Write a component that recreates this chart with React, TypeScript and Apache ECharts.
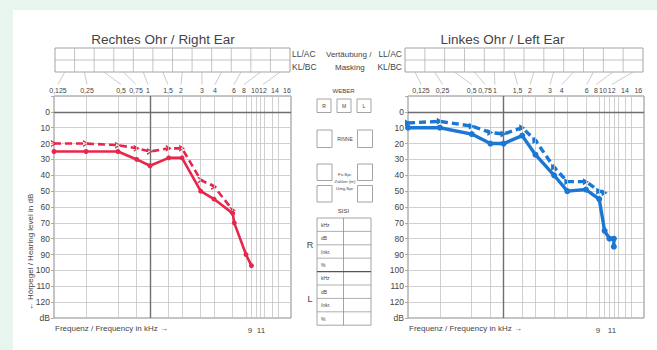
import React, { useEffect, useRef } from "react";
import * as echarts from "echarts";

// ---------------- data ----------------
const topFreqLabels = ["0,125", "0,25", "0,5", "0,75", "1", "1,5", "2", "3", "4", "6", "8", "10", "12", "14", "16"];
const gridFrequencies = [0.125, 0.25, 0.5, 0.75, 1, 1.5, 2, 3, 4, 6, 8, 9, 10, 11, 12, 14, 16];
const highFreqLabels = ["9", "11"];
const weberBoxes = ["R", "M", "L"];
const sisiRows = ["kHz", "dB", "Inkr.", "%"];
const speechLabels = ["Fü.Spr.", "Zahlen (m)", "Umg.Spr."];

const rightAirFreq = [0.125, 0.25, 0.5, 0.75, 1, 1.5, 2, 3, 4, 6, 6.2, 8, 9];
const rightAirDb = [25, 25, 25, 30, 34, 29, 29, 50, 55, 64, 70, 90, 97];
const rightBoneFreq = [0.125, 0.25, 0.5, 0.75, 1, 1.5, 2, 3, 4, 6];
const rightBoneDb = [20, 20, 21, 23, 25, 23, 23, 43, 47, 62];
const leftAirFreq = [0.125, 0.25, 0.5, 0.75, 1, 1.5, 2, 3, 4, 6, 8, 9, 10, 11, 11];
const leftAirDb = [10, 10, 14, 20, 20, 15, 27, 40, 50, 49, 55, 75, 80, 80, 85];
const leftBoneFreq = [0.125, 0.25, 0.5, 0.75, 1, 1.5, 2, 3, 4, 6, 8, 9];
const leftBoneDb = [7, 6, 9, 13, 14, 10, 18, 35, 44, 44, 50, 51];

// ---------------- style / layout ----------------
const RED = "#e8264c";
const BLUE = "#1b77d2";
const GRID_C = "#c4c4c4";
const DARK_LINE = "#6e6e6e";
const FORM_C = "#8e8e8e";
const TEXT_C = "#444444";
const FONT = "Liberation Sans, Arial, sans-serif";

const PANELS = [
  {
    left: 54, top: 96, width: 237, height: 222,
    labelOffsets: [4, 33, 67, 82, 94, 114, 127, 148, 161, 180, 190, 201, 209, 221, 233],
    boxLeft: 55, boxRight: 290,
    title: "Rechtes Ohr / Right Ear", titleX: 163,
    hfX: [250, 261],
    air: { f: rightAirFreq, d: rightAirDb }, bone: { f: rightBoneFreq, d: rightBoneDb },
    color: RED, lineW: 2.6, dotSize: 5,
    boneSymbol: "path://M0,0L10,5L0,10L0,7.6L6.5,5L0,2.4Z",
  },
  {
    left: 408, top: 96, width: 236, height: 222,
    labelOffsets: [13, 34.5, 63.7, 77, 87, 109.5, 122, 142, 153.7, 178.7, 188, 195, 203.7, 217, 230.3],
    boxLeft: 405, boxRight: 643,
    title: "Linkes Ohr / Left Ear", titleX: 502.5,
    hfX: [598, 612],
    air: { f: leftAirFreq, d: leftAirDb }, bone: { f: leftBoneFreq, d: leftBoneDb },
    color: BLUE, lineW: 3.4, dotSize: 6,
    boneSymbol: "path://M0,0L10,5L0,10Z",
  },
];
const LEADER_MAP = [0, 1, 2, 3, 4, 5, 6, 7, 8, 9, 10, 12];

const zip = (f: number[], d: number[]) => f.map((x, i) => [x, d[i]]);

function txt(text: string, x: number, y: number, size: number, align = "center", extra: any = {}) {
  return {
    type: "text", x, y, silent: true, z: 20, ...extra,
    style: { text, fill: TEXT_C, font: `${size}px ${FONT}`, textAlign: align, textVerticalAlign: "middle" },
  };
}
function box(x: number, y: number, w: number, h: number, lw = 0.8) {
  return { type: "rect", silent: true, z: 20, shape: { x, y, width: w, height: h }, style: { fill: "none", stroke: FORM_C, lineWidth: lw } };
}
function ln(x1: number, y1: number, x2: number, y2: number, color = FORM_C, lw = 0.8) {
  return { type: "line", silent: true, z: 20, shape: { x1, y1, x2, y2 }, style: { stroke: color, lineWidth: lw } };
}

function buildGraphics() {
  const g: any[] = [];
  g.push({ type: "rect", silent: true, z: -100, shape: { x: 13, y: 10, width: 700, height: 400 }, style: { fill: "#ffffff" } });

  PANELS.forEach((p) => {
    g.push(txt(p.title, p.titleX, 39, 13.5));
    const colW = (p.boxRight - p.boxLeft) / 12;
    g.push(box(p.boxLeft, 48, p.boxRight - p.boxLeft, 24));
    g.push(ln(p.boxLeft, 60, p.boxRight, 60, "#aaaaaa", 0.7));
    for (let i = 1; i < 12; i++) g.push(ln(p.boxLeft + i * colW, 48, p.boxLeft + i * colW, 72, "#aaaaaa", 0.7));
    topFreqLabels.forEach((l, i) => g.push(txt(l, p.left + p.labelOffsets[i], 90, 7)));
    LEADER_MAP.forEach((li, ci) => {
      g.push(ln(p.boxLeft + (ci + 0.5) * colW, 72, p.left + p.labelOffsets[li], 84.5, "#b4b4b4", 0.7));
    });
    g.push(txt("Frequenz / Frequency in kHz →", p.left + 1, 328, 8, "left"));
    highFreqLabels.forEach((l, i) => g.push(txt(l, p.hfX[i], 330, 8)));
  });

  g.push(txt("LL/AC", 292, 54, 8.5, "left"));
  g.push(txt("KL/BC", 292, 67, 8.5, "left"));
  g.push(txt("Vertäubung /", 326, 54, 8, "left"));
  g.push(txt("Masking", 335, 67, 8, "left"));
  g.push(txt("LL/AC", 402, 54, 8.5, "right"));
  g.push(txt("KL/BC", 402, 67, 8.5, "right"));

  g.push(txt("← Hörpegel / Hearing level in dB", 30, 252, 8, "center", { rotation: Math.PI / 2 }));

  const cx = 343.5;
  g.push(txt("WEBER", cx, 91, 6));
  weberBoxes.forEach((b, i) => {
    const x = 317 + i * 20;
    g.push(box(x, 99, 14, 13.5));
    g.push(txt(b, x + 7, 106, 5));
  });
  g.push(box(317, 130, 15, 17.5));
  g.push(box(357.5, 130, 15, 17.5));
  g.push(txt("RINNE", cx + 1.5, 139, 5));
  g.push(box(317, 164, 15, 16.5));
  g.push(box(357.5, 164, 15, 16.5));
  g.push(box(317, 185.5, 15, 16.5));
  g.push(box(357.5, 185.5, 15, 16.5));
  speechLabels.forEach((s, i) => g.push(txt(s, cx + 1.5, 174 + i * 7.2, 4.3)));
  g.push(txt("SISI", cx, 211, 6));
  const tTop = 218, rowH = 13.4, tL = 317, tR = 371;
  g.push(box(tL, tTop, tR - tL, rowH * 8));
  g.push(ln(cx, tTop, cx, tTop + rowH * 8));
  for (let r = 1; r < 8; r++) {
    g.push(ln(tL, tTop + r * rowH, tR, tTop + r * rowH, r === 4 ? "#555555" : FORM_C, r === 4 ? 1.4 : 0.7));
  }
  for (let half = 0; half < 2; half++) {
    sisiRows.forEach((s, i) => g.push(txt(s, tL + 4, tTop + (half * 4 + i + 0.5) * rowH, 5, "left")));
  }
  g.push(txt("R", 310, 245, 9));
  g.push(txt("L", 310, 299, 9));
  return g;
}

export default function App() {
  const ref = useRef<HTMLDivElement>(null);
  useEffect(() => {
    document.body.style.margin = "0";
    if (!ref.current) return;
    const chart = echarts.init(ref.current, undefined, { renderer: "svg" });

    const grid = PANELS.map((p) => ({
      left: p.left, top: p.top, width: p.width, height: p.height,
      show: true, borderColor: "#8a8a8a", borderWidth: 1, backgroundColor: "transparent",
    }));
    const xAxis = PANELS.map((p, i) => ({
      type: "log", logBase: 2, gridIndex: i, min: 0.125, max: 21.2,
      axisLine: { show: false }, axisTick: { show: false }, axisLabel: { show: false }, splitLine: { show: false },
    }));
    const yAxis = PANELS.map((p, i) => ({
      type: "value", gridIndex: i, inverse: true, min: -10, max: 130, interval: 10,
      axisLine: { show: false },
      axisTick: { show: true, length: 3, lineStyle: { color: "#9a9a9a", width: 0.8 } },
      axisLabel: {
        fontSize: 8.5, color: TEXT_C, margin: 4, fontFamily: FONT,
        formatter: (v: number) => (v === -10 ? "" : v === 130 ? "dB" : String(v)),
      },
      splitLine: { show: true, lineStyle: { color: GRID_C, width: 0.8 } },
    }));

    const series: any[] = [];
    PANELS.forEach((p, i) => {
      const mlData: any[] = gridFrequencies
        .filter((f) => f > 0.125)
        .map((f) => (f === 1 ? { xAxis: f, lineStyle: { color: DARK_LINE, width: 1.4, type: "solid" } } : { xAxis: f }));
      mlData.push({ yAxis: 0, lineStyle: { color: DARK_LINE, width: 1.4, type: "solid" } });
      series.push({
        type: "line", xAxisIndex: i, yAxisIndex: i, data: [], silent: true, z: 1,
        markLine: {
          silent: true, symbol: ["none", "none"], animation: false, label: { show: false },
          lineStyle: { color: GRID_C, width: 0.8, type: "solid" },
          emphasis: { disabled: true },
          data: mlData,
        },
      });
      series.push({
        type: "line", xAxisIndex: i, yAxisIndex: i, z: 4, silent: true,
        data: zip(p.bone.f, p.bone.d),
        lineStyle: { color: p.color, width: p.lineW, type: [7, 4] },
        itemStyle: { color: p.color },
        symbol: p.boneSymbol, symbolSize: [6, 7], showSymbol: true,
        emphasis: { disabled: true },
      });
      series.push({
        type: "line", xAxisIndex: i, yAxisIndex: i, z: 5, silent: true,
        data: zip(p.air.f, p.air.d),
        lineStyle: { color: p.color, width: p.lineW },
        itemStyle: { color: p.color },
        symbol: "circle", symbolSize: p.dotSize, showSymbol: true,
        emphasis: { disabled: true },
      });
    });

    chart.setOption({
      animation: false,
      backgroundColor: "#e8f4ee",
      grid, xAxis, yAxis, series,
      graphic: { elements: buildGraphics() },
    });
    return () => chart.dispose();
  }, []);
  return <div ref={ref} style={{ width: 657, height: 350 }} />;
}
